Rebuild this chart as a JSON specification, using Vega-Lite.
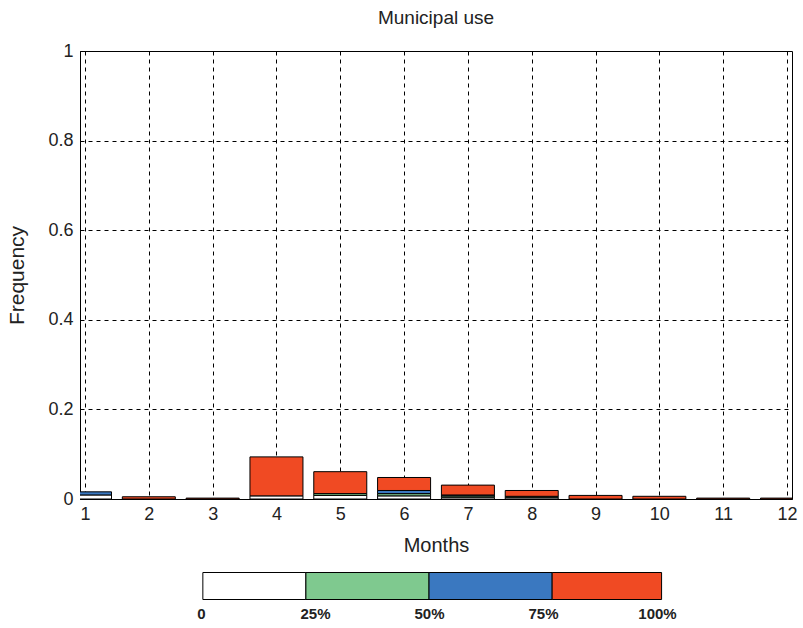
{
  "$schema": "https://vega.github.io/schema/vega-lite/v6.json",
  "padding": {"left": 6, "top": 8, "right": 5, "bottom": 5},
  "background": "white",
  "bounds": "flush",
  "spacing": 72,
  "config": {
    "font": "Liberation Sans",
    "view": {"stroke": "black", "strokeWidth": 1},
    "axis": {"labelFont": "Liberation Sans", "titleFont": "Liberation Sans", "labelColor": "#222", "titleColor": "#222", "titleFontWeight": "normal"}
  },
  "datasets": {
    "bars": [
      {"month": 1, "level": "0-25%", "idx": 0, "value": 0.009},
      {"month": 1, "level": "50-75%", "idx": 2, "value": 0.007},
      {"month": 2, "level": "75-100%", "idx": 3, "value": 0.005},
      {"month": 3, "level": "75-100%", "idx": 3, "value": 0.002},
      {"month": 4, "level": "0-25%", "idx": 0, "value": 0.007},
      {"month": 4, "level": "75-100%", "idx": 3, "value": 0.087},
      {"month": 5, "level": "0-25%", "idx": 0, "value": 0.008},
      {"month": 5, "level": "25-50%", "idx": 1, "value": 0.004},
      {"month": 5, "level": "75-100%", "idx": 3, "value": 0.049},
      {"month": 6, "level": "0-25%", "idx": 0, "value": 0.007},
      {"month": 6, "level": "25-50%", "idx": 1, "value": 0.005},
      {"month": 6, "level": "50-75%", "idx": 2, "value": 0.007},
      {"month": 6, "level": "75-100%", "idx": 3, "value": 0.029},
      {"month": 7, "level": "0-25%", "idx": 0, "value": 0.004},
      {"month": 7, "level": "25-50%", "idx": 1, "value": 0.003},
      {"month": 7, "level": "50-75%", "idx": 2, "value": 0.002},
      {"month": 7, "level": "75-100%", "idx": 3, "value": 0.022},
      {"month": 8, "level": "0-25%", "idx": 0, "value": 0.003},
      {"month": 8, "level": "25-50%", "idx": 1, "value": 0.003},
      {"month": 8, "level": "75-100%", "idx": 3, "value": 0.013},
      {"month": 9, "level": "75-100%", "idx": 3, "value": 0.008},
      {"month": 10, "level": "75-100%", "idx": 3, "value": 0.006},
      {"month": 11, "level": "75-100%", "idx": 3, "value": 0.002},
      {"month": 12, "level": "75-100%", "idx": 3, "value": 0.002}
    ],
    "legend": [
      {"level": "0-25%", "start": 0.4, "end": 23},
      {"level": "25-50%", "start": 23, "end": 50},
      {"level": "50-75%", "start": 50, "end": 77},
      {"level": "75-100%", "start": 77, "end": 101}
    ]
  },
  "vconcat": [
    {
      "width": 712,
      "height": 448,
      "title": {"text": "Municipal use", "fontSize": 19, "fontWeight": "normal", "font": "Liberation Sans", "color": "#222", "offset": 14, "anchor": "middle"},
      "data": {"name": "bars"},
      "mark": {"type": "bar", "size": 53, "stroke": "black", "strokeWidth": 1, "clip": true},
      "encoding": {
        "x": {"field": "month", "type": "quantitative", "scale": {"domain": [1, 12], "nice": false, "zero": false},
          "axis": {"values": [1,2,3,4,5,6,7,8,9,10,11,12], "title": "Months", "titleFontSize": 20, "labelFontSize": 18, "labelPadding": 6, "titlePadding": 12, "ticks": false, "domainColor": "black", "gridColor": "black", "gridDash": [4, 4], "gridOpacity": 1, "labelFlush": false}},
        "y": {"field": "value", "type": "quantitative", "stack": "zero", "scale": {"domain": [0, 1], "nice": false},
          "axis": {"values": [0, 0.2, 0.4, 0.6, 0.8, 1], "format": "~g", "title": "Frequency", "titleFontSize": 21, "labelFontSize": 18, "labelPadding": 7, "titlePadding": 20, "ticks": false, "domainColor": "black", "gridColor": "black", "gridDash": [4, 4], "gridOpacity": 1, "labelFlush": false}},
        "color": {"field": "level", "type": "nominal", "scale": {"domain": ["0-25%", "25-50%", "50-75%", "75-100%"], "range": ["#FFFFFF", "#7FC98F", "#3A78C0", "#F04A23"]}, "legend": null},
        "order": {"field": "idx", "type": "quantitative"}
      }
    },
    {
      "width": 712,
      "height": 30,
      "view": {"stroke": null},
      "data": {"name": "legend"},
      "mark": {"type": "bar", "stroke": "black", "strokeWidth": 1},
      "encoding": {
        "x": {"field": "start", "type": "quantitative", "scale": {"domain": [-26.54, 129.6], "nice": false, "zero": false},
          "axis": {"values": [0, 25, 50, 75, 100], "labelExpr": "datum.value == 0 ? '0' : datum.value + '%'", "title": null, "domain": false, "ticks": false, "grid": false, "labelFontSize": 15, "labelFontWeight": "bold", "labelPadding": 5, "labelFlush": false}},
        "x2": {"field": "end"},
        "color": {"field": "level", "type": "nominal", "scale": {"domain": ["0-25%", "25-50%", "50-75%", "75-100%"], "range": ["#FFFFFF", "#7FC98F", "#3A78C0", "#F04A23"]}, "legend": null}
      }
    }
  ]
}
